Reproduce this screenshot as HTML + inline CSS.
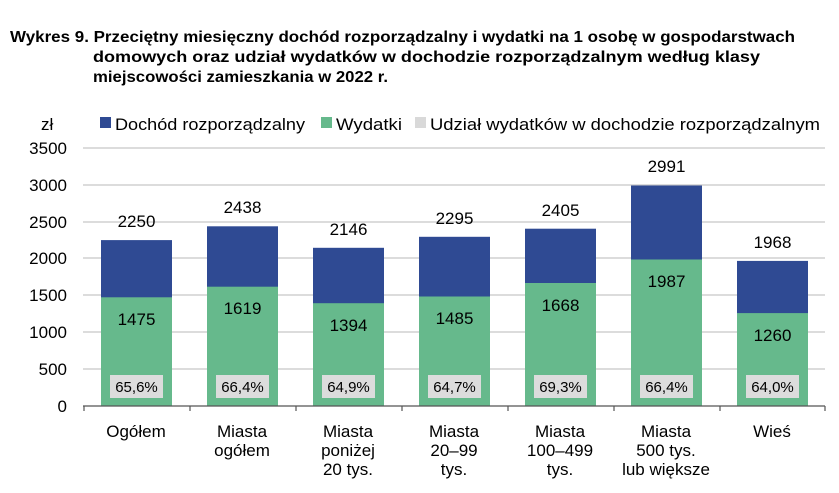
<!DOCTYPE html>
<html><head><meta charset="utf-8"><style>
body{margin:0;background:#fff;width:839px;height:488px;overflow:hidden;font-family:"Liberation Sans",sans-serif}
</style></head><body>
<svg width="839" height="488" xmlns="http://www.w3.org/2000/svg" font-family="Liberation Sans, sans-serif">
<g font-weight="bold" font-size="16" fill="#000">
<text x="10" y="42" textLength="785" lengthAdjust="spacingAndGlyphs">Wykres 9. Przeciętny miesięczny dochód rozporządzalny i wydatki na 1 osobę w gospodarstwach</text>
<text x="93" y="62" textLength="667" lengthAdjust="spacingAndGlyphs">domowych oraz udział wydatków w dochodzie rozporządzalnym według klasy</text>
<text x="93" y="82" textLength="295" lengthAdjust="spacingAndGlyphs">miejscowości zamieszkania w 2022 r.</text>
</g>
<g font-size="17" fill="#000">
<text x="41" y="130">zł</text>
<rect x="100" y="117" width="11" height="11" fill="#2f4a93"/><text x="115" y="130" textLength="190" lengthAdjust="spacingAndGlyphs">Dochód rozporządzalny</text>
<rect x="321" y="117" width="11" height="11" fill="#66b98c"/><text x="336" y="130" textLength="66" lengthAdjust="spacingAndGlyphs">Wydatki</text>
<rect x="415" y="117" width="11" height="11" fill="#d9d9d9"/><text x="430" y="130" textLength="390" lengthAdjust="spacingAndGlyphs">Udział wydatków w dochodzie rozporządzalnym</text>
</g>
<g stroke="#c8c8c8" stroke-width="1.2">
<line x1="83" x2="825" y1="148" y2="148"/><line x1="83" x2="825" y1="185" y2="185"/>
<line x1="83" x2="825" y1="222" y2="222"/><line x1="83" x2="825" y1="258" y2="258"/>
<line x1="83" x2="825" y1="295" y2="295"/><line x1="83" x2="825" y1="332" y2="332"/>
<line x1="83" x2="825" y1="369" y2="369"/>
</g>
<g font-size="17" text-anchor="end" fill="#000">
<text x="67" y="154">3500</text><text x="67" y="191">3000</text><text x="67" y="228">2500</text>
<text x="67" y="264">2000</text><text x="67" y="301">1500</text><text x="67" y="338">1000</text>
<text x="67" y="375">500</text><text x="67" y="412">0</text>
</g>
<g>
<rect x="101" y="240.1" width="71" height="165.9" fill="#2f4a93"/><rect x="101" y="297.3" width="71" height="108.7" fill="#66b98c"/>
<rect x="207" y="226.3" width="71" height="179.7" fill="#2f4a93"/><rect x="207" y="286.7" width="71" height="119.3" fill="#66b98c"/>
<rect x="313" y="247.8" width="71" height="158.2" fill="#2f4a93"/><rect x="313" y="303.2" width="71" height="102.8" fill="#66b98c"/>
<rect x="419" y="236.8" width="71" height="169.2" fill="#2f4a93"/><rect x="419" y="296.5" width="71" height="109.5" fill="#66b98c"/>
<rect x="525" y="228.7" width="71" height="177.3" fill="#2f4a93"/><rect x="525" y="283.0" width="71" height="123" fill="#66b98c"/>
<rect x="631" y="185.5" width="71" height="220.5" fill="#2f4a93"/><rect x="631" y="259.5" width="71" height="146.5" fill="#66b98c"/>
<rect x="737" y="260.9" width="71" height="145.1" fill="#2f4a93"/><rect x="737" y="313.1" width="71" height="92.9" fill="#66b98c"/>
</g>
<g fill="#dcdcdc">
<rect x="110" y="375" width="53" height="23"/><rect x="216" y="375" width="53" height="23"/><rect x="322" y="375" width="53" height="23"/><rect x="428" y="375" width="53" height="23"/><rect x="534" y="375" width="53" height="23"/><rect x="640" y="375" width="53" height="23"/><rect x="746" y="375" width="53" height="23"/>
</g>
<g font-size="15" text-anchor="middle" fill="#000">
<text x="136.5" y="392">65,6%</text><text x="242.5" y="392">66,4%</text><text x="348.5" y="392">64,9%</text><text x="454.5" y="392">64,7%</text><text x="560.5" y="392">69,3%</text><text x="666.5" y="392">66,4%</text><text x="772.5" y="392">64,0%</text>
</g>
<g font-size="17" text-anchor="middle" fill="#000">
<text x="136.5" y="325">1475</text><text x="242.5" y="314">1619</text><text x="348.5" y="331">1394</text><text x="454.5" y="324">1485</text><text x="560.5" y="311">1668</text><text x="666.5" y="287">1987</text><text x="772.5" y="341">1260</text>
<text x="136.5" y="227">2250</text><text x="242.5" y="213">2438</text><text x="348.5" y="235">2146</text><text x="454.5" y="224">2295</text><text x="560.5" y="216">2405</text><text x="666.5" y="172">2991</text><text x="772.5" y="248">1968</text>
</g>
<line x1="83" x2="825" y1="406" y2="406" stroke="#555" stroke-width="1.2"/>
<g stroke="#555" stroke-width="1.2">
<line x1="84" x2="84" y1="406" y2="411"/><line x1="190" x2="190" y1="406" y2="411"/><line x1="296" x2="296" y1="406" y2="411"/><line x1="402" x2="402" y1="406" y2="411"/><line x1="508" x2="508" y1="406" y2="411"/><line x1="614" x2="614" y1="406" y2="411"/><line x1="720" x2="720" y1="406" y2="411"/><line x1="825" x2="825" y1="406" y2="411"/>
</g>
<g font-size="17" text-anchor="middle" fill="#000">
<text x="136" y="437">Ogółem</text>
<text x="242" y="437">Miasta</text><text x="242" y="456">ogółem</text>
<text x="348" y="437">Miasta</text><text x="348" y="456">poniżej</text><text x="348" y="475">20 tys.</text>
<text x="454" y="437">Miasta</text><text x="454" y="456">20–99</text><text x="454" y="475">tys.</text>
<text x="560" y="437">Miasta</text><text x="560" y="456">100–499</text><text x="560" y="475">tys.</text>
<text x="666" y="437">Miasta</text><text x="666" y="456">500 tys.</text><text x="666" y="475">lub większe</text>
<text x="772" y="437">Wieś</text>
</g>
</svg>
</body></html>
